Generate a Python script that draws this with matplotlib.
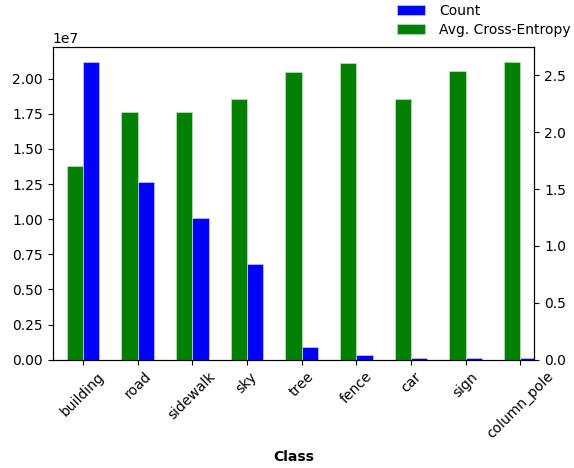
import numpy as np
import matplotlib
matplotlib.use("Agg")
import matplotlib.pyplot as plt

# Per-class pixel counts and mean cross-entropy loss
classes = ["building", "road", "sidewalk", "sky", "tree", "fence", "car", "sign", "column_pole"]
counts = [2.122e7, 1.263e7, 1.008e7, 0.683e7, 0.092e7, 0.030e7, 0.010e7, 0.010e7, 0.010e7]
avg_ce = [1.70, 2.18, 2.18, 2.29, 2.53, 2.61, 2.29, 2.54, 2.62]

width = 0.3
x = np.arange(len(classes))

fig = plt.figure(figsize=(5.74, 4.68), dpi=100)
ax = fig.add_axes([0.0918, 0.2314, 0.839, 0.6688])
ax2 = ax.twinx()

b1 = ax.bar(x + width / 2, counts, width, color="blue", edgecolor="#ccccff", linewidth=0.5, label="Count")
b2 = ax2.bar(x - width / 2, avg_ce, width, color="green", edgecolor="#ccddcc", linewidth=0.5,
             label="Avg. Cross-Entropy")

ax.set_xlim(-0.554, 8.256)
ax.set_xticks(x)
ax.set_xticklabels(classes, rotation=45)
ax.set_xlabel("Class", fontweight="bold", labelpad=6)

ax.set_yticks(np.arange(0, 2.01e7, 0.25e7))
ax2.set_yticks(np.arange(0, 2.51, 0.5))

fig.legend([b1, b2], ["Count", "Avg. Cross-Entropy"], loc="upper right",
           bbox_to_anchor=(1.016, 1.019), frameon=False, handlelength=2.0,
           labelspacing=0.38, handletextpad=1.0)

fig.savefig("out.png", dpi=100)
